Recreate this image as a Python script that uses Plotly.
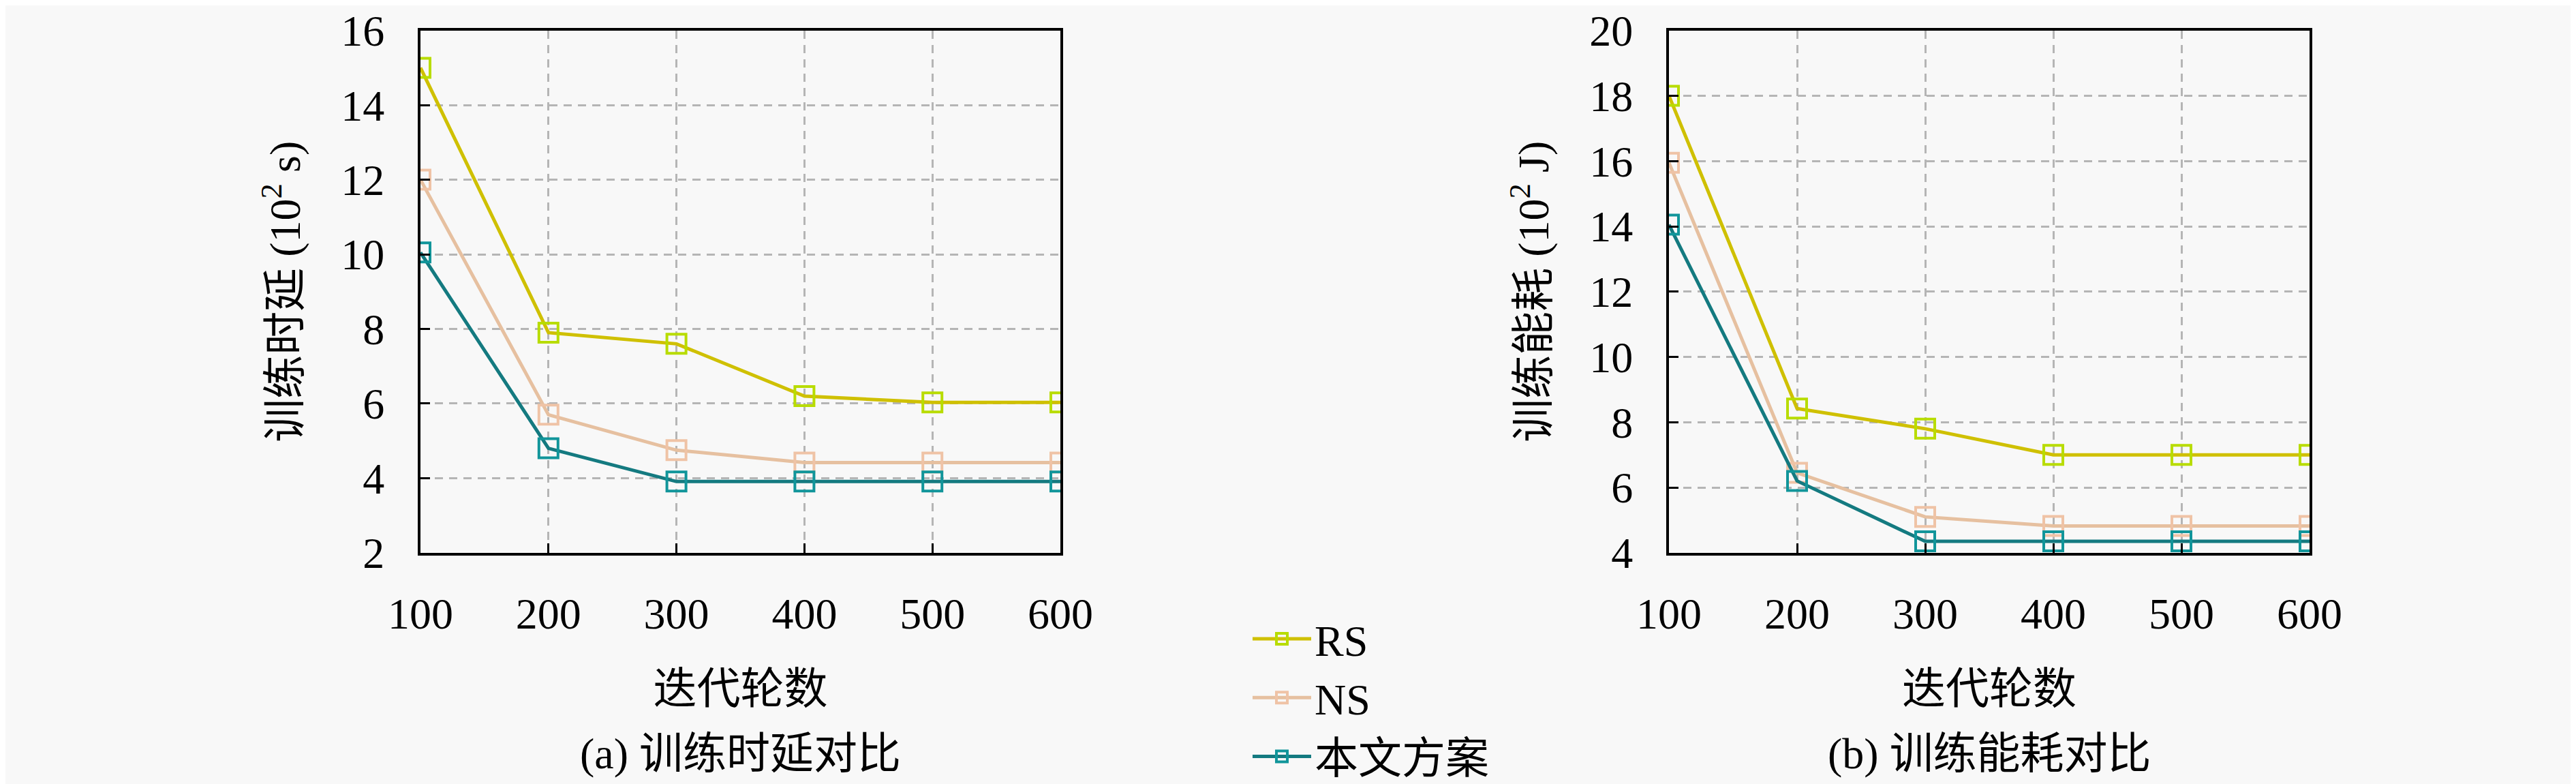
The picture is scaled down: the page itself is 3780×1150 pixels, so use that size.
import plotly.graph_objects as go

iterations = [100, 200, 300, 400, 500, 600]
series_names = ["RS", "NS", "本文方案"]

delay_rs = [15.0, 7.9, 7.6, 6.2, 6.03, 6.03]
delay_ns = [12.0, 5.7, 4.75, 4.42, 4.42, 4.42]
delay_ours = [10.05, 4.8, 3.91, 3.91, 3.91, 3.91]

energy_rs = [18.0, 8.42, 7.8, 7.0, 7.0, 7.0]
energy_ns = [15.95, 6.45, 5.1, 4.82, 4.82, 4.82]
energy_ours = [14.05, 6.2, 4.35, 4.35, 4.35, 4.35]

x_ticks = [100, 200, 300, 400, 500, 600]
delay_ticks = [2, 4, 6, 8, 10, 12, 14, 16]
energy_ticks = [4, 6, 8, 10, 12, 14, 16, 18, 20]

line_colors = ["#cfc000", "#e6c0a0", "#147a80"]
marker_colors = ["#b8dc00", "#efc3a6", "#11959a"]

FONT = "Liberation Serif, 'Noto Sans CJK SC', serif"
BG = "#f8f8f8"
FS = 64

W, H = 3780, 1150
PLOT_TOP, PLOT_BOTTOM = 38, 831

fig = go.Figure()

panels = [
    ("x", "y", [delay_rs, delay_ns, delay_ours], True),
    ("x2", "y2", [energy_rs, energy_ns, energy_ours], False),
]
for xa, ya, data, show in panels:
    for name, vals, lc, mc in zip(series_names, data, line_colors, marker_colors):
        fig.add_trace(go.Scatter(
            x=iterations, y=vals, name=name, mode="lines+markers",
            xaxis=xa, yaxis=ya, showlegend=show,
            line=dict(color=lc, width=5),
            marker=dict(symbol="square-open", size=28, color=mc,
                        line=dict(color=mc, width=4)),
        ))

def px_x(p):
    return p / W

def px_y(p):
    return 1 - p / H

common_x = dict(
    range=[100, 600], tickvals=x_ticks, ticks="inside", ticklen=14, tickwidth=3,
    tickcolor="black", showline=True, linewidth=4, linecolor="black", mirror=True,
    showgrid=True, gridcolor="#b5b5b5", gridwidth=3, griddash="12px,9px",
    zeroline=False, tickfont=dict(family=FONT, size=FS, color="black"),
    ticklabelstandoff=30, automargin=False, ticklabeloverflow="allow",
    title=dict(text="迭代轮数", font=dict(family=FONT, size=FS, color="black"), standoff=54),
)
common_y = dict(
    ticks="inside", ticklen=14, tickwidth=3, tickcolor="black",
    showline=True, linewidth=4, linecolor="black", mirror=True,
    showgrid=True, gridcolor="#b5b5b5", gridwidth=3, griddash="12px,9px",
    zeroline=False, tickfont=dict(family=FONT, size=FS, color="black"),
    ticklabelstandoff=36, automargin=False, ticklabeloverflow="allow",
)

fig.update_layout(
    width=W, height=H,
    margin=dict(l=0, r=0, t=0, b=0, pad=0),
    paper_bgcolor=BG, plot_bgcolor=BG,
    font=dict(family=FONT, size=FS, color="black"),
    xaxis=dict(domain=[px_x(609), px_x(1548)], anchor="y", **common_x),
    yaxis=dict(domain=[px_y(PLOT_BOTTOM), px_y(PLOT_TOP)], anchor="x", range=[2, 16], tickvals=delay_ticks,
               title=dict(text="训练时延 (10<sup>2</sup> s)", font=dict(family=FONT, size=FS), standoff=40),
               **common_y),
    xaxis2=dict(domain=[px_x(2441), px_x(3381)], anchor="y2", **common_x),
    yaxis2=dict(domain=[px_y(PLOT_BOTTOM), px_y(PLOT_TOP)], anchor="x2", range=[4, 20], tickvals=energy_ticks,
                title=dict(text="训练能耗 (10<sup>2</sup> J)", font=dict(family=FONT, size=FS), standoff=40),
                **common_y),
    legend=dict(
        x=px_x(1825), y=px_y(912), xanchor="left", yanchor="top",
        bgcolor="rgba(0,0,0,0)", borderwidth=0, tracegroupgap=0,
        font=dict(family=FONT, size=FS, color="black"), itemwidth=86,
    ),
    annotations=[
        dict(text="(a) 训练时延对比", x=(px_x(609) + px_x(1548)) / 2, y=px_y(1136),
             xref="paper", yref="paper", showarrow=False, xanchor="center", yanchor="middle",
             font=dict(family=FONT, size=FS, color="black")),
        dict(text="(b) 训练能耗对比", x=(px_x(2441) + px_x(3381)) / 2, y=px_y(1136),
             xref="paper", yref="paper", showarrow=False, xanchor="center", yanchor="middle",
             font=dict(family=FONT, size=FS, color="black")),
    ],
)

fig.write_html("out.html")
